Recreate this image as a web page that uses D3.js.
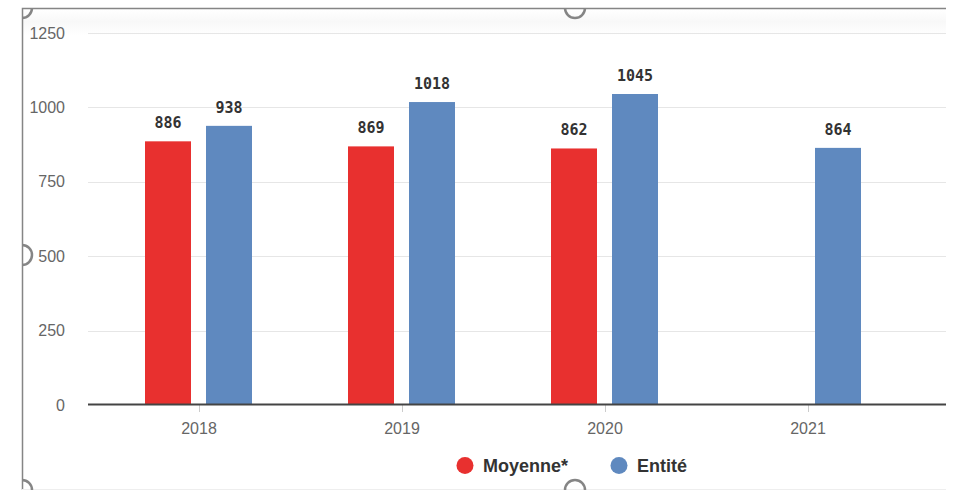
<!DOCTYPE html>
<html>
<head>
<meta charset="utf-8">
<script src="https://cdn.jsdelivr.net/npm/d3@7"></script>
<style>
  body { margin: 0; background: #fff; }
  svg { display: block; }
</style>
</head>
<body>
<script>
const years = ["2018", "2019", "2020", "2021"];
const moyenne = [886, 869, 862, null];
const entite = [938, 1018, 1045, 864];
const yTicks = [0, 250, 500, 750, 1000, 1250];
const seriesNames = ["Moyenne*", "Entité"];
const colors = ["#e8302f", "#5f89bf"];

const w = 955, h = 494;

const svg = d3.select("body").append("svg")
  .attr("width", w)
  .attr("height", h)
  .style("font-family", "'Liberation Sans', Arial, sans-serif");

// faint band at the top of the frame
const defs = svg.append("defs");
const grad = defs.append("linearGradient")
  .attr("id", "topband").attr("x1", 0).attr("y1", 0).attr("x2", 0).attr("y2", 1);
grad.append("stop").attr("offset", "0%").attr("stop-color", "#ffffff");
grad.append("stop").attr("offset", "50%").attr("stop-color", "#f8f8f8");
grad.append("stop").attr("offset", "100%").attr("stop-color", "#ffffff");
svg.append("rect").attr("x", 23).attr("y", 9).attr("width", 923).attr("height", 26)
  .attr("fill", "url(#topband)");

const y = d3.scaleLinear().domain([0, 1250]).range([405, 33]);
const x = d3.scaleBand().domain(years).range([97.5, 909.5]);
const xInner = d3.scaleBand().domain(seriesNames).range([47.5, 154.5]).paddingInner(0.246);

// grid
svg.append("g")
  .selectAll("line")
  .data(yTicks.filter(d => d > 0))
  .join("line")
  .attr("x1", 88).attr("x2", 946)
  .attr("y1", d => Math.round(y(d)) + 0.5)
  .attr("y2", d => Math.round(y(d)) + 0.5)
  .attr("stroke", "#e6e6e6");

// y labels
svg.append("g")
  .selectAll("text")
  .data(yTicks)
  .join("text")
  .attr("x", 65)
  .attr("y", d => y(d) + 5.5)
  .attr("text-anchor", "end")
  .attr("font-size", 16)
  .attr("fill", "#666")
  .text(d => d);

// bars
const series = [moyenne, entite];
series.forEach((vals, si) => {
  const rows = years.map((yr, i) => ({ yr, v: vals[i] })).filter(d => d.v != null);
  const g = svg.append("g");
  g.selectAll("rect")
    .data(rows)
    .join("rect")
    .attr("x", d => x(d.yr) + xInner(seriesNames[si]))
    .attr("y", d => y(d.v))
    .attr("width", xInner.bandwidth())
    .attr("height", d => y(0) - y(d.v))
    .attr("fill", colors[si]);
  g.selectAll("text")
    .data(rows)
    .join("text")
    .attr("x", d => x(d.yr) + xInner(seriesNames[si]) + xInner.bandwidth() / 2)
    .attr("y", d => y(d.v) - 13)
    .attr("text-anchor", "middle")
    .attr("font-family", "'DejaVu Sans Mono', monospace")
    .attr("font-weight", "bold")
    .attr("font-size", 15)
    .attr("fill", "#333")
    .text(d => d.v);
});

// x axis
const xAxis = svg.append("g");
xAxis.selectAll("line")
  .data(years)
  .join("line")
  .attr("x1", d => x(d) + x.bandwidth() / 2 + 0.5)
  .attr("x2", d => x(d) + x.bandwidth() / 2 + 0.5)
  .attr("y1", 405).attr("y2", 412)
  .attr("stroke", "#ccc");
xAxis.selectAll("text")
  .data(years)
  .join("text")
  .attr("x", d => x(d) + x.bandwidth() / 2)
  .attr("y", 434)
  .attr("text-anchor", "middle")
  .attr("font-size", 16)
  .attr("fill", "#666")
  .text(d => d);
svg.append("line")
  .attr("x1", 88).attr("x2", 946)
  .attr("y1", 404.5).attr("y2", 404.5)
  .attr("stroke", "#444").attr("stroke-width", 2);

// legend
const legendX = [465, 619];
const legend = svg.append("g")
  .selectAll("g")
  .data(seriesNames)
  .join("g")
  .attr("transform", (d, i) => `translate(${legendX[i]},465.5)`);
legend.append("circle").attr("r", 8.5).attr("fill", (d, i) => colors[i]);
legend.append("text")
  .attr("x", 18).attr("y", 6.5)
  .attr("font-size", 18).attr("font-weight", "bold").attr("fill", "#333")
  .text(d => d);

// frame with handles
defs.append("clipPath").attr("id", "frameclip")
  .append("rect").attr("x", 22).attr("y", 8).attr("width", 933).attr("height", 482);
const frame = svg.append("g").attr("stroke", "#858585").attr("fill", "none");
frame.append("path")
  .attr("d", "M946,8.5 H22.5 V490")
  .attr("stroke-width", 1.5);
frame.append("line").attr("x1", 22).attr("x2", 946).attr("y1", 489.5).attr("y2", 489.5)
  .attr("stroke", "#eeeeee");
const handles = [[22, 8], [575, 8], [22, 255], [575, 490], [22, 490]];
frame.append("g").attr("clip-path", "url(#frameclip)")
  .selectAll("circle")
  .data(handles)
  .join("circle")
  .attr("cx", d => d[0]).attr("cy", d => d[1])
  .attr("r", 10).attr("stroke-width", 2.5);
</script>
</body>
</html>
